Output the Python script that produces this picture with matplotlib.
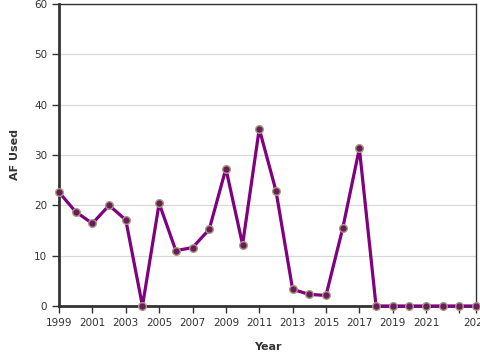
import matplotlib
matplotlib.use("Agg")
import matplotlib.pyplot as plt

years = list(range(1999, 2025))
af_used = [22.6, 18.7, 16.4, 20.0, 17.1, 0.0, 20.4, 11.0, 11.6, 15.2,
           27.3, 12.2, 35.2, 22.9, 3.3, 2.3, 2.1, 15.4, 31.3, 0.0,
           0.0, 0.0, 0.0, 0.0, 0.0, 0.0]
tick_years = list(range(1999, 2024, 2)) + [2024]
tick_labels = [str(y) if y != 2023 else "" for y in tick_years]
y_ticks = [0, 10, 20, 30, 40, 50, 60]

fig = plt.figure(figsize=(4.8, 3.6), dpi=100)
ax = fig.add_axes([0.123, 0.15, 0.869, 0.839])

ax.plot(years, af_used, color="#800080", lw=2.3, marker="o", ms=5.5,
        mfc="#6b1a5e", mec="#a89a7a", mew=1.0, clip_on=False, zorder=3)

ax.set_xlim(1999, 2024)
ax.set_ylim(0, 60)
ax.set_xticks(tick_years)
ax.set_xticklabels(tick_labels)
ax.set_yticks(y_ticks)
ax.grid(axis="y", color="#d9d9d9", lw=0.9)
ax.set_axisbelow(True)

for side in ["left", "bottom"]:
    ax.spines[side].set_linewidth(2)
    ax.spines[side].set_color("#333333")
for side in ["top", "right"]:
    ax.spines[side].set_linewidth(1)
    ax.spines[side].set_color("#333333")

ax.tick_params(axis="both", labelsize=7.5, colors="#333333", length=5, width=1)
ax.set_xlabel("Year", fontsize=8, fontweight="bold", color="#333333", labelpad=10)
ax.set_ylabel("AF Used", fontsize=8, fontweight="bold", color="#333333", labelpad=10)

fig.savefig("out.png", dpi=100)
